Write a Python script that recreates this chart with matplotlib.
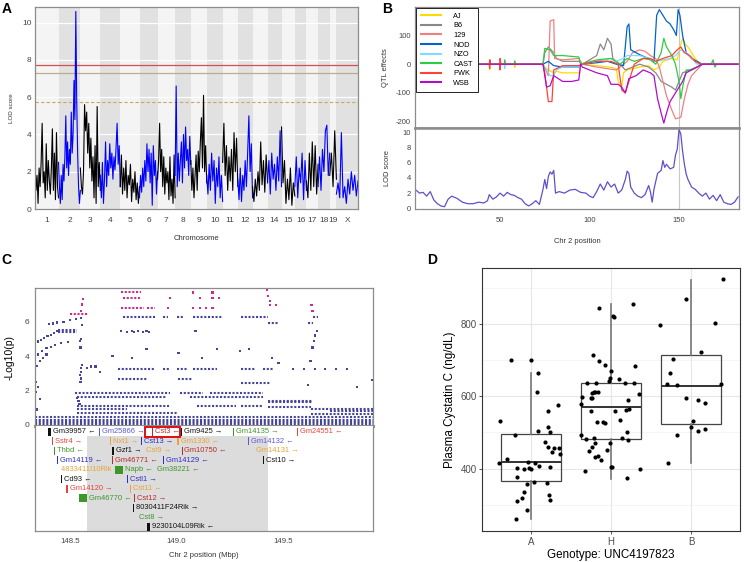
import numpy as np
import matplotlib
matplotlib.use("Agg")
import matplotlib.pyplot as plt
from matplotlib.patches import Rectangle
from matplotlib.lines import Line2D

plt.rcParams['font.family'] = ['Liberation Sans', 'DejaVu Sans']
plt.rcParams['axes.unicode_minus'] = False

# ---------------- panel A: genome scan ----------------
CHROMS = ['1', '2', '3', '4', '5', '6', '7', '8', '9', '10', '11', '12', '13',
          '14', '15', '16', '17', '18', '19', 'X']
CHR_LEN = [99, 92, 84, 84, 81, 76, 74, 66, 67, 67, 64, 62, 63, 59, 56, 49, 49, 49, 28, 91]
LOD_A = [
    [2.7, 1.0, 1.8, 0.3, 2.2, 1.2, 2.5, 4.6, 1.4, 2.0, 0.6, 3.5, 1.0, 2.6, 1.5, 0.8, 2.2, 4.3, 1.0, 3.0, 0.5, 4.1, 1.2, 0.6],
    [2.5, 1.2, 0.3, 1.8, 0.5, 2.4, 1.5, 2.8, 5.0, 2.2, 3.6, 1.8, 3.2, 2.4, 5.2, 3.0, 4.0, 6.9, 4.8, 10.6, 5.8, 3.0, 1.2, 0.3, 1.0],
    [2.2, 1.2, 0.8, 2.0, 5.6, 4.2, 5.2, 3.0, 4.6, 2.2, 3.8, 1.5, 2.8, 0.6, 3.4, 0.3, 5.5, 1.2, 2.5, 1.0],
    [1.8, 0.6, 2.5, 0.3, 1.6, 3.6, 1.2, 2.6, 1.8, 3.5, 2.2, 3.0, 1.6, 2.8, 2.1, 3.3, 4.6, 2.4, 3.4, 1.2],
    [1.2, 2.9, 0.8, 2.2, 1.0, 2.6, 0.6, 1.8, 1.3, 2.4, 0.4, 1.6, 0.9, 2.0, 0.5, 1.4, 0.3, 1.2],
    [0.6, 1.8, 0.9, 2.2, 1.2, 2.6, 1.5, 3.5, 2.0, 3.2, 1.4, 3.0, 0.2, 3.4, 1.8, 2.6, 0.8, 2.0],
    [1.6, 2.6, 4.6, 2.0, 3.2, 1.2, 2.8, 0.8, 2.2, 1.4, 2.0, 0.5, 2.8, 0.7, 1.6, 0.3, 2.9, 0.6],
    [1.8, 6.6, 1.2, 3.0, 1.5, 2.6, 3.6, 1.4, 4.0, 2.2, 4.4, 2.6, 3.2, 1.8, 3.9, 2.4],
    [2.6, 1.0, 2.2, 0.6, 1.8, 2.9, 1.0, 3.1, 2.0, 3.6, 4.9, 2.2, 6.1, 2.0, 3.4, 1.4],
    [1.8, 0.8, 2.4, 1.0, 3.0, 1.5, 2.6, 0.3, 2.2, 1.2, 2.8, 0.6, 1.8, 0.4],
    [2.5, 4.6, 1.8, 3.4, 1.0, 2.8, 1.5, 3.2, 1.0, 4.1, 2.0, 3.8, 1.2],
    [1.6, 0.5, 2.2, 0.4, 1.8, 1.0, 2.6, 1.2, 3.0, 5.0, 2.0, 3.5, 0.6],
    [1.2, 0.4, 1.6, 0.7, 2.0, 1.0, 3.6, 1.3, 2.6, 0.9, 2.9, 1.5],
    [1.4, 2.6, 0.8, 3.0, 1.6, 2.4, 1.0, 2.8, 1.5, 4.2, 1.2],
    [4.4, 1.4, 2.6, 0.3, 1.6, 0.5, 2.2, 0.2, 1.4, 0.7],
    [1.2, 2.8, 0.6, 2.2, 1.4, 3.0, 0.5, 2.6, 1.0],
    [1.5, 0.6, 3.0, 1.0, 3.6, 1.2, 3.4, 0.8, 2.4],
    [1.2, 2.8, 1.0, 3.2, 2.0, 4.2, 4.5, 1.8, 3.0],
    [1.8, 3.0, 1.2, 4.2, 1.6],
    [0.8, 1.4, 0.6, 4.1, 0.6, 1.2, 0.3, 1.6, 0.8, 2.0, 1.0, 1.8, 0.7, 1.5],
]
THRESH = [7.72, 7.30, 5.73]

# ---------------- panel B: chr 2 allele effects + LOD ----------------
STRAINS = ['AJ', 'B6', '129', 'NOD', 'NZO', 'CAST', 'PWK', 'WSB']
EFF_AJ = [(3, 0), (44, 0), (44.2, -20), (44.6, 0), (58, 0), (58.2, -12), (58.8, 0), (74, 0), (75, -10), (77, -20),
          (80, -30), (81.5, -25), (85, -30), (94.6, -30), (95, 0), (104, -5), (111, -10), (115, -15), (116, -60),
          (118, -80), (119, -30), (121, -20), (128, -10), (133, -5), (136, -20), (139, -10), (141, 10), (146, 20),
          (149, 15), (150.5, 60), (152, 90), (153.5, 70), (155, 60), (157, 40), (159, 20), (162, 0), (183, 0)]
EFF_B6 = [(3, 0), (74, 0), (75, 40), (77, 60), (80, 40), (81.5, 20), (85, 10), (94, 10), (96, 0), (104, 30),
          (106, 70), (108, 50), (110, 90), (112, 70), (113, 20), (115, 10), (117, 0), (120, -20), (128, 0),
          (133, -10), (137, -30), (140, -60), (143, -70), (146, -80), (148, -90), (150, -60), (152, -30),
          (156, -20), (160, -10), (163, 0), (183, 0)]
EFF_129 = [(3, 0), (44, 0), (44.2, 15), (44.6, 0), (49.8, 0), (50, 18), (50.4, 0), (74, 0), (77, -40), (78, 150),
           (80, 155), (80.5, 20), (85, 15), (94, 20), (96, 0), (104, -10), (115, -20), (121, 10), (124, 40),
           (128, 50), (131, 45), (134, 30), (137, 20), (139, -10), (141, -60), (143, -110), (146, -160),
           (148, -190), (151, -185), (153, -120), (155, -70), (157, -40), (160, -20), (163, 0), (183, 0)]
EFF_NOD = [(3, 0), (74, 0), (77, 10), (80, -5), (85, -10), (94, -10), (96, 0), (104, 5), (110, 10), (115, 0),
           (119, -5), (121, 130), (122, 140), (123, 50), (126, 40), (129, 30), (133, 20), (136, 10), (137.5, 170),
           (139, 190), (141, 170), (143, 150), (145, 140), (147, 120), (148.5, 100), (149.5, 190), (150.5, 170),
           (152, 100), (154, 40), (157, 20), (160, 10), (163, 0), (183, 0)]
EFF_NZO = [(3, 0), (52.4, 0), (52.6, -15), (53, 0), (74, 0), (76, -20), (78, -40), (80, -40), (81.5, -20), (85, -10),
           (94, -10), (96, 0), (104, 10), (112, 20), (115, 10), (119, 20), (121, 30), (128, 30), (133, 20),
           (137, 10), (141, 15), (145, 20), (148, 30), (151, 50), (154, 40), (157, 20), (160, 0), (183, 0)]
EFF_CAST = [(3, 0), (52.4, 0), (52.6, 15), (53, 0), (58, 0), (58.2, 12), (58.8, 0), (74, 0), (75, 55), (78, 50),
            (80, 30), (85, 30), (94, 25), (95, 0), (104, 15), (112, 20), (117, 0), (121, 20), (125, 10), (130, 20),
            (134, 15), (137, 0), (140, 40), (141.5, 90), (143, 60), (146, 30), (148, 0), (150, -60), (151, -120),
            (152, -80), (154, -20), (157, -20), (160, -10), (163, 0), (168, 0), (169, 15), (170, -10), (171, 0), (183, 0)]
EFF_PWK = [(3, 0), (44, 0), (44.2, -15), (44.3, 15), (44.6, 0), (49.8, 0), (50, -20), (50.1, 20), (50.4, 0), (74, 0),
           (75, -30), (77, -130), (79, -130), (80, -20), (85, -5), (94, -5), (96, 0), (104, 10), (112, 10), (116, 0),
           (118, -90), (120, -100), (122, -60), (125, 0), (130, 20), (134, 20), (137, 10), (141, 20), (146, 30),
           (149, 50), (151, 60), (153, 40), (156, 30), (159, 10), (162, 0), (183, 0)]
EFF_WSB = [(3, 0), (74, 0), (75, -40), (76, -80), (78, -75), (80, -40), (85, -60), (90, -60), (94, -55), (95, 0),
           (96, -10), (104, -30), (110, -40), (112, -70), (116, -70), (118, -80), (120, -100), (122, -50), (126, -40),
           (130, -20), (134, -30), (136, -40), (138, -120), (140, -170), (141.5, -205), (143, -170), (145, -130),
           (148, -100), (150, -80), (152, -60), (154, -30), (157, -20), (160, -10), (163, 0), (183, 0)]
EFFECTS = [EFF_AJ, EFF_B6, EFF_129, EFF_NOD, EFF_NZO, EFF_CAST, EFF_PWK, EFF_WSB]
STRAIN_COLORS = ['#FFDC00', '#888888', '#F08080', '#0064C9', '#7FDBFF', '#2ECC40', '#FF4136', '#B10DC9']

LODB_POS = [3, 5, 7, 9, 11, 13, 15, 17, 19, 21, 23, 26, 29, 32, 35, 38, 41, 43, 44, 46, 48, 50, 52, 54, 56, 58, 60,
            62, 64, 66, 68, 70, 72, 74, 75, 76, 77, 78, 79, 80, 81, 83, 86, 89, 92, 95, 98, 100, 102, 104, 106, 108,
            110, 112, 114, 116, 118, 120, 121, 122, 123, 125, 127, 129, 131, 133, 134, 135, 136, 138, 140, 141, 142,
            143, 145, 147, 148, 149, 150, 151, 152, 153, 154, 155, 157, 159, 161, 163, 165, 167, 169, 171, 173, 175,
            177, 179, 181, 183]
LODB_VAL = [2.4, 2.0, 2.1, 1.6, 2.2, 1.1, 0.6, 0.3, 0.2, 1.2, 1.6, 1.3, 0.8, 0.6, 0.6, 0.8, 0.7, 1.0, 1.8, 1.2, 1.5,
            2.0, 1.6, 2.1, 1.8, 1.7, 1.4, 1.2, 0.6, 0.3, 0.6, 1.0, 0.5, 2.5, 3.8, 2.6, 4.2, 4.8, 4.5, 5.0, 2.0, 2.2,
            2.0, 2.4, 2.5, 2.1, 2.0, 1.6, 1.4, 2.2, 3.2, 2.4, 3.5, 2.8, 3.2, 2.0, 2.4, 3.8, 4.9, 4.6, 2.8, 2.0, 1.6,
            1.4, 1.8, 3.0, 2.2, 0.8, 2.5, 4.6, 5.0, 6.3, 5.4, 5.8, 5.2, 5.4, 7.0, 7.8, 10.4, 9.8, 7.5, 5.8, 4.5, 3.8,
            2.8, 2.5, 2.0, 1.6, 2.0, 1.2, 1.7, 1.0, 1.8, 0.8, 0.6, 0.5, 0.8, 1.5]
PEAK_POS = 150.2

# ---------------- panel C: SNP association + genes ----------------
SIG = 6.4
STRIP_X0 = [148.742, 148.750, 148.742, 148.860, 148.500, 148.750, 148.938, 149.001, 149.079, 149.306, 149.642,
            148.445, 148.445, 149.431, 149.619, 148.727, 148.938, 149.001, 149.079, 149.306, 149.408, 148.727,
            149.009, 149.306, 148.523, 149.017, 149.157, 148.531, 149.063, 149.431, 149.431, 148.531, 149.095,
            149.306, 149.431, 148.531, 149.635, 149.720, 149.635, 148.531, 148.336, 148.336, 148.336, 148.336]
STRIP_X1 = [148.835, 148.830, 148.850, 148.900, 148.586, 148.900, 148.962, 149.032, 149.220, 149.431, 149.666,
            148.531, 148.531, 149.478, 149.642, 148.899, 148.970, 149.048, 149.189, 149.376, 149.455, 148.860,
            149.079, 149.439, 148.970, 149.126, 149.408, 148.954, 149.408, 149.642, 149.642, 148.970, 149.282,
            149.408, 149.635, 148.766, 149.924, 149.924, 149.924, 149.010, 149.924, 149.924, 149.924, 149.924]
STRIP_Y = [7.70, 7.40, 6.82, 6.82, 6.45, 6.30, 6.30, 6.30, 6.30, 6.30, 6.30,
           5.50, 5.42, 5.90, 5.90, 3.24, 3.24, 3.24, 3.24, 3.24, 3.24, 2.66,
           2.66, 2.46, 1.88, 1.88, 1.88, 1.65, 1.65, 1.42, 1.36, 1.10, 1.10,
           1.10, 1.02, 0.95, 0.95, 0.80, 0.65, 0.72, 0.46, 0.30, 0.15, 0.05]
PTS_X = [148.336, 148.350, 148.365, 148.380, 148.395, 148.410, 148.425, 148.440,
         148.336, 148.350, 148.370, 148.390, 148.410, 148.430, 148.460, 148.490,
         148.336, 148.345, 148.360, 148.375, 148.390,
         148.400, 148.420, 148.440, 148.470, 148.500, 148.530,
         148.340, 148.350, 148.360, 148.345, 148.338,
         148.550, 148.552, 148.549, 148.553, 148.551, 148.555, 148.550, 148.548, 148.553, 148.556, 148.551,
         148.552, 148.556, 148.560, 148.545, 148.540, 148.535,
         148.580, 148.600, 148.620, 148.740, 148.770, 148.790, 148.800, 148.820, 148.845, 148.860, 148.870,
         149.090, 148.860, 149.190, 149.340, 148.790, 149.120, 149.450, 149.550, 149.600, 149.650, 149.700,
         149.750, 149.800, 149.630, 149.620, 149.920, 149.660, 149.650, 149.645, 149.640, 149.635, 149.640,
         149.440, 149.430, 149.425, 149.440, 149.470, 148.970, 149.080, 149.110, 149.170, 149.170, 149.200,
         148.960, 149.080, 149.110, 149.140, 149.170, 149.010, 149.300, 149.480, 149.850, 148.700, 148.640]
PTS_Y = [4.70, 4.85, 4.95, 5.05, 5.15, 5.25, 5.35, 5.45,
         3.90, 4.10, 4.30, 4.45, 4.55, 4.65, 4.75, 4.80,
         3.20, 3.45, 3.70, 3.90, 4.10,
         5.85, 5.90, 5.95, 6.00, 6.10, 6.14,
         2.50, 2.20, 1.50, 0.90, 1.90,
         2.50, 2.70, 2.90, 3.10, 3.30, 3.50, 4.50, 4.90, 5.00, 5.80, 6.20,
         6.60, 7.00, 7.30, 1.20, 1.40, 1.55,
         3.30, 3.40, 3.40, 5.47, 5.40, 5.47, 5.40, 5.47, 5.40, 5.47, 5.42,
         5.47, 4.40, 4.40, 4.40, 3.90, 3.90, 3.90, 3.24, 3.24, 3.24, 3.24,
         3.24, 3.24, 3.70, 2.30, 2.60, 5.47, 5.20, 4.90, 4.50, 6.95, 6.60,
         7.20, 7.50, 7.85, 6.95, 6.95, 7.40, 7.70, 7.40, 7.70, 7.40, 7.40,
         6.82, 6.82, 6.82, 6.82, 6.82, 4.20, 4.30, 3.60, 2.20, 4.00, 3.10]
SUPPORT = (148.58, 149.43)

GENE_NAME = ['Gm39957', 'Gm25866', 'Cst3', 'Gm9425', 'Gm14135', 'Gm24551',
             'Sstr4', 'Nxt1', 'Cst13', 'Gm1330', 'Gm14132',
             'Thbd', 'Gzf1', 'Cst9', 'Gm10750', 'Gm14131',
             'Gm14119', 'Gm46771', 'Gm14129', 'Cst10',
             '4833411I10Rik', 'Napb', 'Gm38221',
             'Cd93', 'Cstl1',
             'Gm14120', 'Cst11',
             'Gm46770', 'Cst12',
             '8030411F24Rik', 'Cst8', '9230104L09Rik']
GENE_START = [148.399, 148.638, 148.884, 149.022, 149.265, 149.568,
              148.418, 148.688, 148.834, 149.005, 149.336,
              148.427, 148.697, 148.846, 149.025, 149.363,
              148.439, 148.699, 148.939, 149.408,
              148.447, 148.711, 148.898,
              148.457, 148.768,
              148.483, 148.783,
              148.542, 148.803,
              148.797, 148.813, 148.860]
GENE_END = [148.411, 148.642, 148.889, 149.026, 149.269, 149.572,
            148.422, 148.692, 148.839, 149.013, 149.341,
            148.431, 148.709, 148.850, 149.029, 149.367,
            148.443, 148.703, 148.944, 149.413,
            148.451, 148.748, 148.902,
            148.462, 148.772,
            148.492, 148.787,
            148.582, 148.807,
            148.802, 148.817, 148.878]
GENE_ROW = [0, 0, 0, 0, 0, 0, 1, 1, 1, 1, 1, 2, 2, 2, 2, 2, 3, 3, 3, 3, 4, 4, 4, 5, 5, 6, 6, 7, 7, 8, 9, 10]
GENE_STRAND = [-1, 1, -1, 1, 1, -1, 1, 1, 1, -1, -1, -1, 1, 1, -1, 1, -1, -1, -1, 1, -1, -1, -1, -1, 1,
               1, -1, -1, 1, 1, 1, -1]
GENE_GROUP = ['k', 's', 'd', 'k', 'g', 'r', 'r', 'o', 'b', 'o', 's', 'g', 'k', 'o', 'd', 'o', 'b', 'd', 'b', 'k',
              'o', 'g', 'g', 'k', 'b', 'r', 'o', 'g', 'd', 'k', 'g', 'k']
HIGHLIGHT = 'Cst3'

# ---------------- panel D: phenotype by genotype ----------------
GENOTYPES = ['A', 'H', 'B']
BOX_WHISLO = [260, 372.6, 415.8]
BOX_Q1 = [367, 481.7, 522.9]
BOX_MED = [418.5, 570.6, 629]
BOX_Q3 = [497, 636.6, 713.6]
BOX_WHISHI = [663, 855.7, 921.5]
PTS_A = [532.1, 698.9, 698.9, 664.1, 612.8, 575.2, 559.6, 492.7, 504.6, 514.7, 501.8, 474.3, 427.6, 415.7,
         419.3, 416.6, 408.3, 401.9, 399.2, 401.0, 400.1, 403.7, 458.7, 457.8, 456.9, 445.9, 441.3, 376.2,
         357.0, 363.4, 361.6, 335.0, 318.5, 312.1, 328.6, 314.8, 284.6, 259.8]
JIT_A = [-0.383, -0.246, -0.004, 0.083, 0.079, 0.333, 0.213, -0.204, 0.083, 0.208, 0.238, 0.175, -0.296, -0.392,
         -0.033, 0.054, 0.096, -0.167, -0.088, -0.029, 0.004, 0.233, 0.213, 0.283, 0.346, 0.263, 0.363, -0.171,
         -0.046, 0.033, 0.204, -0.088, -0.117, -0.179, 0.221, 0.242, -0.054, -0.183]
PTS_H = [844.7, 855.7, 820.8, 819.0, 714.5, 697.1, 685.2, 682.4, 670.5, 649.4, 642.1, 637.5, 636.6, 647.6,
         636.6, 636.6, 605.4, 610.0, 611.8, 612.7, 610.9, 598.1, 594.4, 594.4, 589.8, 577.9, 560.5, 560.5,
         562.3, 564.2, 530.2, 528.4, 527.5, 533.9, 501.8, 492.7, 481.7, 483.5, 470.7, 460.6, 483.5, 478.9,
         447.8, 470.7, 451.4, 435.8, 433.1, 423.0, 405.6, 403.7, 394.6, 399.2, 373.5]
JIT_H = [-0.154, 0.275, 0.021, 0.033, -0.225, -0.15, -0.071, 0.296, 0.004, -0.008, -0.021, -0.183, -0.304, 0.104,
         0.171, 0.288, 0.35, -0.238, -0.208, -0.167, -0.196, -0.363, -0.254, -0.233, 0.208, -0.375, -0.25, 0.046,
         0.183, 0.229, -0.179, -0.1, -0.075, 0.113, 0.204, -0.375, -0.317, -0.208, -0.204, -0.233, 0.142, 0.208,
         -0.275, -0.013, -0.05, -0.163, -0.196, -0.121, 0.004, 0.008, -0.325, 0.363, 0.2]
PTS_B = [922.6, 869.4, 797.0, 803.4, 722.8, 701.7, 663.2, 632.9, 630.2, 632.9, 594.4, 590.8, 580.7, 532.1,
         513.8, 503.7, 510.1, 491.7, 415.7]
JIT_B = [0.392, -0.063, -0.383, 0.296, 0.129, -0.225, -0.258, -0.304, -0.171, 0.379, -0.063, 0.092, 0.175,
         0.029, 0.004, 0.088, 0.179, -0.171, -0.288]

# ================= drawing =================
W, H = 744.0, 562.0
fig = plt.figure(figsize=(7.44, 5.62), dpi=100)


def add_ax(x0, y0, x1, y1):
    return fig.add_axes([x0 / W, 1 - y1 / H, (x1 - x0) / W, (y1 - y0) / H])


def frame(ax, color='#8C8C8C', lw=0.9):
    for s in ax.spines.values():
        s.set_color(color)
        s.set_linewidth(lw)


# ---- A ----
axA = add_ax(35, 7, 358, 209)
edges = np.concatenate([[0], np.cumsum(CHR_LEN)])
for i in range(len(CHROMS)):
    axA.axvspan(edges[i], edges[i + 1], color='#F4F4F4' if i % 2 == 0 else '#E1E1E1', lw=0, zorder=0)
for y in range(0, 11, 2):
    axA.axhline(y, color='white', lw=0.9, zorder=0.5)
for i, vals in enumerate(LOD_A):
    x = np.linspace(edges[i], edges[i + 1], len(vals))
    axA.plot(x, vals, color='black' if i % 2 == 0 else '#0000FF', lw=0.8, zorder=2)
axA.axhline(THRESH[0], color='#D0504A', lw=0.9, zorder=1)
axA.axhline(THRESH[1], color='#BBAF85', lw=0.9, zorder=1)
axA.axhline(THRESH[2], color='#C9A862', lw=0.8, ls=(0, (3, 2)), zorder=1)
axA.set_xlim(0, edges[-1])
axA.set_ylim(0, 10.84)
axA.set_xticks((edges[:-1] + edges[1:]) / 2)
axA.set_xticklabels(CHROMS)
axA.set_yticks(range(0, 11, 2))
axA.tick_params(length=0, labelsize=6, colors='#444444')
axA.tick_params(axis='x', pad=5.5)
axA.tick_params(axis='y', pad=2.5)
axA.set_xlabel('Chromosome', fontsize=5.5, labelpad=8, color='#333333')
axA.set_ylabel('LOD score', fontsize=4.5, labelpad=6, color='#333333')
frame(axA)

# ---- B ----
axBt = add_ax(415, 7, 739, 128)
axBb = add_ax(415, 128, 739, 209)
for c, eff in zip(STRAIN_COLORS, EFFECTS):
    p, v = zip(*eff)
    axBt.plot(p, v, color=c, lw=0.9)
axBt.axvline(PEAK_POS, color='#C8C8C8', lw=0.8, zorder=0)
axBt.set_xlim(2.5, 183.5)
axBt.set_ylim(-222, 199)
axBt.set_yticks([100, 0, -100, -200])
axBt.set_xticks([])
axBt.tick_params(length=0, labelsize=5.5, colors='#444444', pad=3)
axBt.set_ylabel('QTL effects', fontsize=5.4, labelpad=5, color='#333333')
handles = [Line2D([], [], color=c, lw=1.5) for c in STRAIN_COLORS]
leg = axBt.legend(handles, STRAINS, loc='upper left', bbox_to_anchor=(0.002, 0.995), borderaxespad=0,
                  fontsize=5.3, frameon=True, fancybox=False, edgecolor='#222222', framealpha=1,
                  handlelength=2.8, handletextpad=1.6, labelspacing=0.33, borderpad=0.7)
leg.get_frame().set_linewidth(0.7)
frame(axBt)
axBt.spines['bottom'].set_linewidth(1.8)

axBb.plot(LODB_POS, LODB_VAL, color='#5E50CC', lw=0.9)
axBb.axvline(PEAK_POS, color='#C8C8C8', lw=0.8, zorder=0)
axBb.set_xlim(2.5, 183.5)
axBb.set_ylim(-0.1, 10.6)
axBb.set_yticks(range(0, 11, 2))
axBb.set_xticks([50, 100, 150])
axBb.tick_params(length=0, labelsize=5.5, colors='#444444', pad=3)
axBb.tick_params(axis='x', pad=6)
axBb.set_ylabel('LOD score', fontsize=5.4, labelpad=8, color='#333333')
axBb.set_xlabel('Chr 2 position', fontsize=5.4, labelpad=10, color='#333333')
frame(axBb)
axBb.spines['top'].set_linewidth(1.8)

# ---- C ----
axCt = add_ax(35, 288, 373, 426)
axCg = add_ax(35, 426, 373, 531)
NAVY, MAG = '#45459A', '#CC2A91'
for x0, x1, y in zip(STRIP_X0, STRIP_X1, STRIP_Y):
    axCt.hlines(y, x0, x1, color=MAG if y > SIG else NAVY, lw=1.5, linestyles=(0, (1, 0.8)))
pc = [MAG if y > SIG else NAVY for y in PTS_Y]
axCt.scatter(PTS_X, PTS_Y, s=2.5, marker='s', c=pc, lw=0)
axCt.set_xlim(148.336, 149.924)
axCt.set_ylim(-0.06, 7.96)
axCt.set_yticks([0, 2, 4, 6])
axCt.set_xticks([])
axCt.tick_params(length=0, labelsize=6, colors='#444444', pad=4)
axCt.set_ylabel('-Log10(p)', fontsize=7.5, labelpad=7)
frame(axCt)
axCt.spines['bottom'].set_linewidth(2.2)

GROUP_COLOR = {'k': '#111111', 'r': '#E0443C', 'd': '#B52B2B', 'g': '#3E962B', 'b': '#2D2DC8',
               's': '#5A5AD8', 'o': '#E8A33A'}
axCg.add_patch(Rectangle((SUPPORT[0], 0.45), SUPPORT[1] - SUPPORT[0], 11, color='#DCDCDC', lw=0, zorder=0))
for name, s, e, r, st, g in zip(GENE_NAME, GENE_START, GENE_END, GENE_ROW, GENE_STRAND, GENE_GROUP):
    col = GROUP_COLOR[g]
    axCg.text(e + 0.009, r, name + (' \u2192' if st > 0 else ' \u2190'), color=col, fontsize=5.4,
              va='center', ha='left', zorder=2)
    axCg.add_patch(Rectangle((s, r - 0.42), e - s, 0.84, color=col, lw=0, zorder=3))
    if name == HIGHLIGHT:
        axCg.add_patch(Rectangle((s - 0.031, -0.5), 0.166, 1.02, fill=False, edgecolor='#E01010',
                                 lw=1.4, zorder=4))
axCg.set_xlim(148.336, 149.924)
axCg.set_ylim(10.42, -0.6)
axCg.set_yticks([])
axCg.set_xticks([148.5, 149.0, 149.5])
axCg.set_xticklabels(['148.5', '149.0', '149.5'])
axCg.tick_params(length=0, labelsize=5.6, colors='#444444', pad=5)
axCg.set_xlabel('Chr 2 position (Mbp)', fontsize=5.5, labelpad=5, color='#333333')
frame(axCg)
axCg.spines['top'].set_visible(False)

# ---- D ----
axD = add_ax(482, 268, 740, 531)
axD.set_axisbelow(True)
for y in [300, 500, 700, 900]:
    axD.axhline(y, color='#F2F2F2', lw=0.5, zorder=0)
axD.grid(True, color='#E6E6E6', lw=0.8)
stats = [dict(whislo=a, q1=b, med=c, q3=d, whishi=e, fliers=[])
         for a, b, c, d, e in zip(BOX_WHISLO, BOX_Q1, BOX_MED, BOX_Q3, BOX_WHISHI)]
axD.bxp(stats, positions=[1, 2, 3], widths=0.75, showcaps=False, patch_artist=True,
        boxprops=dict(facecolor='none', edgecolor='#444444', lw=0.9),
        medianprops=dict(color='#333333', lw=1.4),
        whiskerprops=dict(color='#777777', lw=1.2))
for k, (pts, jit) in enumerate([(PTS_A, JIT_A), (PTS_H, JIT_H), (PTS_B, JIT_B)]):
    axD.scatter(np.array(jit) + k + 1, pts, s=9, color='black', lw=0, zorder=5)
axD.set_xlim(0.39, 3.61)
axD.set_ylim(228, 954)
axD.set_xticks([1, 2, 3])
axD.set_xticklabels(GENOTYPES)
axD.set_yticks([400, 600, 800])
axD.tick_params(length=2.5, width=0.6, color='#333333', labelsize=7, labelcolor='#4D4D4D', pad=1.5)
axD.set_xlabel('Genotype: UNC4197823', fontsize=8.4, labelpad=2)
axD.set_ylabel('Plasma Cystatin C (ng/dL)', fontsize=8.4, labelpad=3)
frame(axD, color='#333333', lw=0.8)

# ---- panel letters ----
for lab, x, y in [('A', 2, 2), ('B', 382, 2), ('C', 1, 253), ('D', 427, 253)]:
    fig.text(x / W, 1 - y / H, lab, fontsize=10, fontweight='bold', ha='left', va='top')

fig.savefig('out.png', dpi=100)
